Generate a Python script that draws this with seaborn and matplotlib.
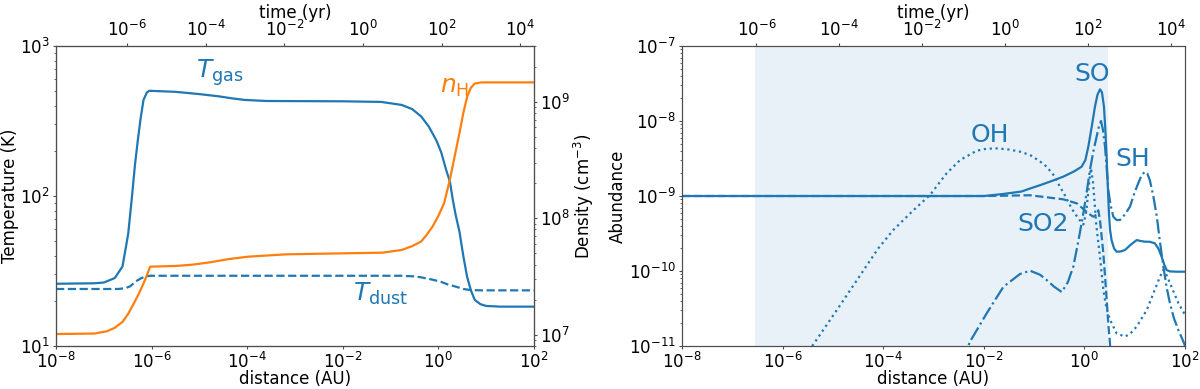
import numpy as np
import matplotlib
matplotlib.use("Agg")
import matplotlib.pyplot as plt
import seaborn as sns
from matplotlib.ticker import NullLocator

# ---- left panel: temperature / density vs distance (log10 AU) ----
tgas_logd = [-8.0, -7.2, -7.0, -6.9, -6.77, -6.61, -6.49, -6.41, -6.35, -6.29, -6.23, -6.17,
             -6.10, -6.05, -5.5, -5.0, -4.6, -4.3, -4.05, -3.6, -2.0, -1.2, -0.77, -0.55,
             -0.36, -0.2, -0.04, 0.06, 0.16, 0.24, 0.30, 0.36, 0.44, 0.52, 0.60, 0.68,
             0.76, 0.88, 1.0, 1.3, 2.0]
tgas_K = [26, 26.2, 26.5, 27.3, 28.4, 33.9, 56, 100, 160, 234, 330, 437,
          490, 503, 495, 478, 462, 447, 437, 430, 428, 424, 405, 380,
          339, 290, 234, 195, 150, 125, 95, 75, 58, 40, 29, 23.5,
          20.3, 19, 18.5, 18.3, 18.3]

tdust_logd = [-8.0, -6.7, -6.55, -6.45, -6.33, -6.21, -6.1, -6.03, -0.77, -0.5, -0.36,
              -0.15, 0.04, 0.2, 0.36, 0.52, 0.68, 0.9, 2.0]
tdust_K = [24, 24, 24.3, 25, 27, 28.4, 29.2, 29.4, 29.4, 29.1, 28.7,
           27.8, 26.9, 25.7, 24.9, 24.0, 23.6, 23.5, 23.5]

nh_logd = [-8.0, -7.2, -6.93, -6.77, -6.61, -6.49, -6.37, -6.27, -6.17, -6.1, -6.03,
           -5.5, -5.17, -4.8, -4.37, -3.97, -3.17, -1.17, -0.77, -0.55, -0.36, -0.24,
           -0.12, 0.0, 0.12, 0.24, 0.34, 0.44, 0.52, 0.60, 0.68, 0.76, 0.9, 2.0]
nh_log = [7.006, 7.01, 7.03, 7.06, 7.11, 7.18, 7.27, 7.35, 7.44, 7.51, 7.584,
          7.59, 7.60, 7.62, 7.65, 7.67, 7.69, 7.704, 7.727, 7.76, 7.80, 7.86,
          7.93, 8.02, 8.13, 8.33, 8.53, 8.73, 8.90, 9.04, 9.12, 9.155, 9.165, 9.165]

# ---- right panel: abundances (log10) vs distance (log10 AU) ----
so_logd = [-8.0, -2.0, -1.64, -1.25, -1.08, -0.87, -0.65, -0.42, -0.2, -0.055, 0.02,
           0.078, 0.14, 0.21, 0.26, 0.31, 0.35, 0.389, 0.415, 0.442, 0.465, 0.488,
           0.51, 0.54, 0.59, 0.64, 0.72, 0.806, 0.92, 1.04, 1.12, 1.204, 1.30, 1.40,
           1.47, 1.536, 1.59, 1.635, 1.7, 1.83, 2.0]
so_log = [-9.0, -9.0, -8.975, -8.94, -8.9, -8.853, -8.80, -8.742, -8.67, -8.609, -8.52,
          -8.342, -8.1, -7.809, -7.65, -7.578, -7.62, -7.809, -8.1, -8.476, -8.85, -9.231,
          -9.45, -9.587, -9.70, -9.742, -9.74, -9.72, -9.65, -9.587, -9.60, -9.609, -9.61, -9.63,
          -9.70, -9.809, -9.92, -9.987, -10.005, -10.009, -10.009]

so2_logd = [-8.0, -2.0, -1.08, -0.42, -0.15, 0.078, 0.177, 0.24, 0.276, 0.31, 0.376,
            0.43, 0.475, 0.508, 0.53]
so2_log = [-9.0, -9.0, -8.99, -9.044, -9.098, -9.231, -9.276, -9.25, -9.19, -9.32, -9.76,
           -10.25, -10.7, -10.96, -11.3]

sh_logd = [-2.6, -2.274, -1.943, -1.61, -1.28, -1.08, -0.88, -0.75, -0.6, -0.45, -0.33,
           -0.22, -0.12, -0.02, 0.05, 0.11, 0.18, 0.243, 0.29, 0.33, 0.37, 0.41, 0.44,
           0.475, 0.52, 0.575, 0.64, 0.707, 0.8, 0.906, 1.0, 1.07, 1.14, 1.204, 1.25,
           1.30, 1.37, 1.44, 1.5, 1.57, 1.63, 1.70, 1.78, 1.87, 1.98, 2.0]
sh_log = [-11.5, -10.942, -10.565, -10.21, -10.04, -9.996, -10.05, -10.12, -10.21, -10.28, -10.15,
          -9.94, -9.6, -9.23, -8.93, -8.653, -8.4, -8.209, -8.07, -8.0, -8.12, -8.342, -8.6,
          -8.92, -9.12, -9.276, -9.32, -9.32, -9.25, -9.142, -8.95, -8.831, -8.72, -8.676, -8.70,
          -8.787, -9.0, -9.276, -9.6, -9.942, -10.2, -10.43, -10.63, -10.79, -10.96, -11.0]

oh_logd = [-5.6, -5.41, -4.9, -4.43, -4.1, -3.8, -3.4, -3.07, -2.74, -2.47, -2.14,
           -1.95, -1.744, -1.5, -1.28, -1.08, -0.9, -0.75, -0.6, -0.486, -0.38, -0.25,
           -0.12, -0.02, 0.04, 0.09, 0.13, 0.17, 0.24, 0.31, 0.376, 0.44, 0.51, 0.64,
           0.807, 0.92, 1.04, 1.24, 1.40, 1.5, 1.57, 1.63, 1.70, 1.87, 1.98, 2.0]
oh_log = [-11.2, -11.0, -10.5, -10.03, -9.7, -9.454, -9.19, -8.987, -8.698, -8.52, -8.396,
          -8.37, -8.365, -8.38, -8.409, -8.453, -8.53, -8.609, -8.73, -8.876, -9.0, -9.17,
          -9.3, -9.38, -9.2, -8.85, -8.63, -8.8, -9.41, -9.81, -10.25, -10.5, -10.65, -10.83,
          -10.876, -10.83, -10.74, -10.52, -10.25, -10.08, -9.987, -10.05, -10.16, -10.43, -10.56, -10.58]

shade_logd = [-6.55, 0.47]   # shaded interval (time 1e-6 yr .. ~300 yr)
time_lim_log = [-7.8, 4.35]  # top time axis range


def p(v):
    return 10.0 ** np.asarray(v, dtype=float)


sns.set_style("ticks")
plt.rcParams.update({"font.family": ["DejaVu Sans"], "font.size": 12,
                     "axes.labelsize": 12, "xtick.labelsize": 12,
                     "ytick.labelsize": 12, "lines.linewidth": 1.6,
                     "xtick.major.size": 2.5, "ytick.major.size": 2.5,
                     "xtick.minor.size": 1.5, "ytick.minor.size": 1.5,
                     "xtick.major.pad": 2.0, "ytick.major.pad": 2.0,
                     "xtick.minor.pad": 2.0, "ytick.minor.pad": 2.0,
                     "axes.labelpad": 1.0,
                     "axes.edgecolor": "0.3", "xtick.color": "0.3", "ytick.color": "0.3",
                     "xtick.labelcolor": "black", "ytick.labelcolor": "black",
                     "axes.labelcolor": "black", "text.color": "black"})

fig = plt.figure(figsize=(12, 3.89), dpi=100)
ax1 = fig.add_axes([0.0467, 0.1105, 0.3983, 0.7712])
ax2 = fig.add_axes([0.5683, 0.1105, 0.4192, 0.7712])

dticks = [1e-8, 1e-6, 1e-4, 1e-2, 1, 1e2]
tticks = [1e-6, 1e-4, 1e-2, 1, 1e2, 1e4]

# left
ax1.set_xscale("log")
ax1.set_yscale("log")
sns.lineplot(x=p(tgas_logd), y=tgas_K, ax=ax1, color="C0", estimator=None, sort=False)
sns.lineplot(x=p(tdust_logd), y=tdust_K, ax=ax1, color="C0", linestyle="--",
             estimator=None, sort=False)
ax1.set_xlim(1e-8, 1e2)
ax1.set_ylim(10, 1000)
ax1.set_xticks(dticks)
ax1.xaxis.set_minor_locator(NullLocator())
ax1.set_xlabel("distance (AU)", labelpad=-2.0)
ax1.set_ylabel("Temperature (K)")

axn = ax1.twinx()
axn.set_yscale("log")
sns.lineplot(x=p(nh_logd), y=p(nh_log), ax=axn, color="C1", estimator=None, sort=False)
axn.set_ylim(8e6, 3e9)
axn.set_ylabel("Density (cm$^{-3}$)")

ax1t = ax1.twiny()
ax1t.set_xscale("log")
ax1t.set_xlim(p(time_lim_log[0]), p(time_lim_log[1]))
ax1t.set_xticks(tticks)
ax1t.xaxis.set_minor_locator(NullLocator())
ax1t.set_xlabel("time (yr)", labelpad=1.5)

ax1.text(p(-4.57), p(2.82), r"$T_{\rm gas}$", color="C0", fontsize=18, ha="center", va="center")
ax1.text(p(0.33), p(2.73), r"$n_{\rm H}$", color="C1", fontsize=18, ha="center", va="center")
ax1.text(p(-1.22), p(1.347), r"$T_{\rm dust}$", color="C0", fontsize=18, ha="center", va="center")

# right
ax2.set_xscale("log")
ax2.set_yscale("log")
ax2.axvspan(p(shade_logd[0]), p(shade_logd[1]), color="C0", alpha=0.1, lw=0)
sns.lineplot(x=p(so_logd), y=p(so_log), ax=ax2, color="C0", estimator=None, sort=False)
sns.lineplot(x=p(so2_logd), y=p(so2_log), ax=ax2, color="C0", linestyle="--",
             estimator=None, sort=False)
sns.lineplot(x=p(oh_logd), y=p(oh_log), ax=ax2, color="C0", linestyle=":",
             estimator=None, sort=False)
sns.lineplot(x=p(sh_logd), y=p(sh_log), ax=ax2, color="C0", linestyle="-.",
             estimator=None, sort=False)
ax2.set_xlim(1e-8, 1e2)
ax2.set_ylim(1e-11, 1e-7)
ax2.set_xticks(dticks)
ax2.xaxis.set_minor_locator(NullLocator())
ax2.set_xlabel("distance (AU)", labelpad=-2.0)
ax2.set_ylabel("Abundance")

ax2t = ax2.twiny()
ax2t.set_xscale("log")
ax2t.set_xlim(p(time_lim_log[0]), p(time_lim_log[1]))
ax2t.set_xticks(tticks)
ax2t.xaxis.set_minor_locator(NullLocator())
ax2t.set_xlabel("time (yr)", labelpad=1.5)

for name, lx, ly in [("OH", -1.887, -8.18), ("SO", 0.161, -7.37),
                     ("SH", 0.966, -8.503), ("SO2", -0.823, -9.373)]:
    ax2.text(p(lx), p(ly), name, color="C0", fontsize=18, ha="center", va="center")

fig.savefig("out.png", dpi=100)
